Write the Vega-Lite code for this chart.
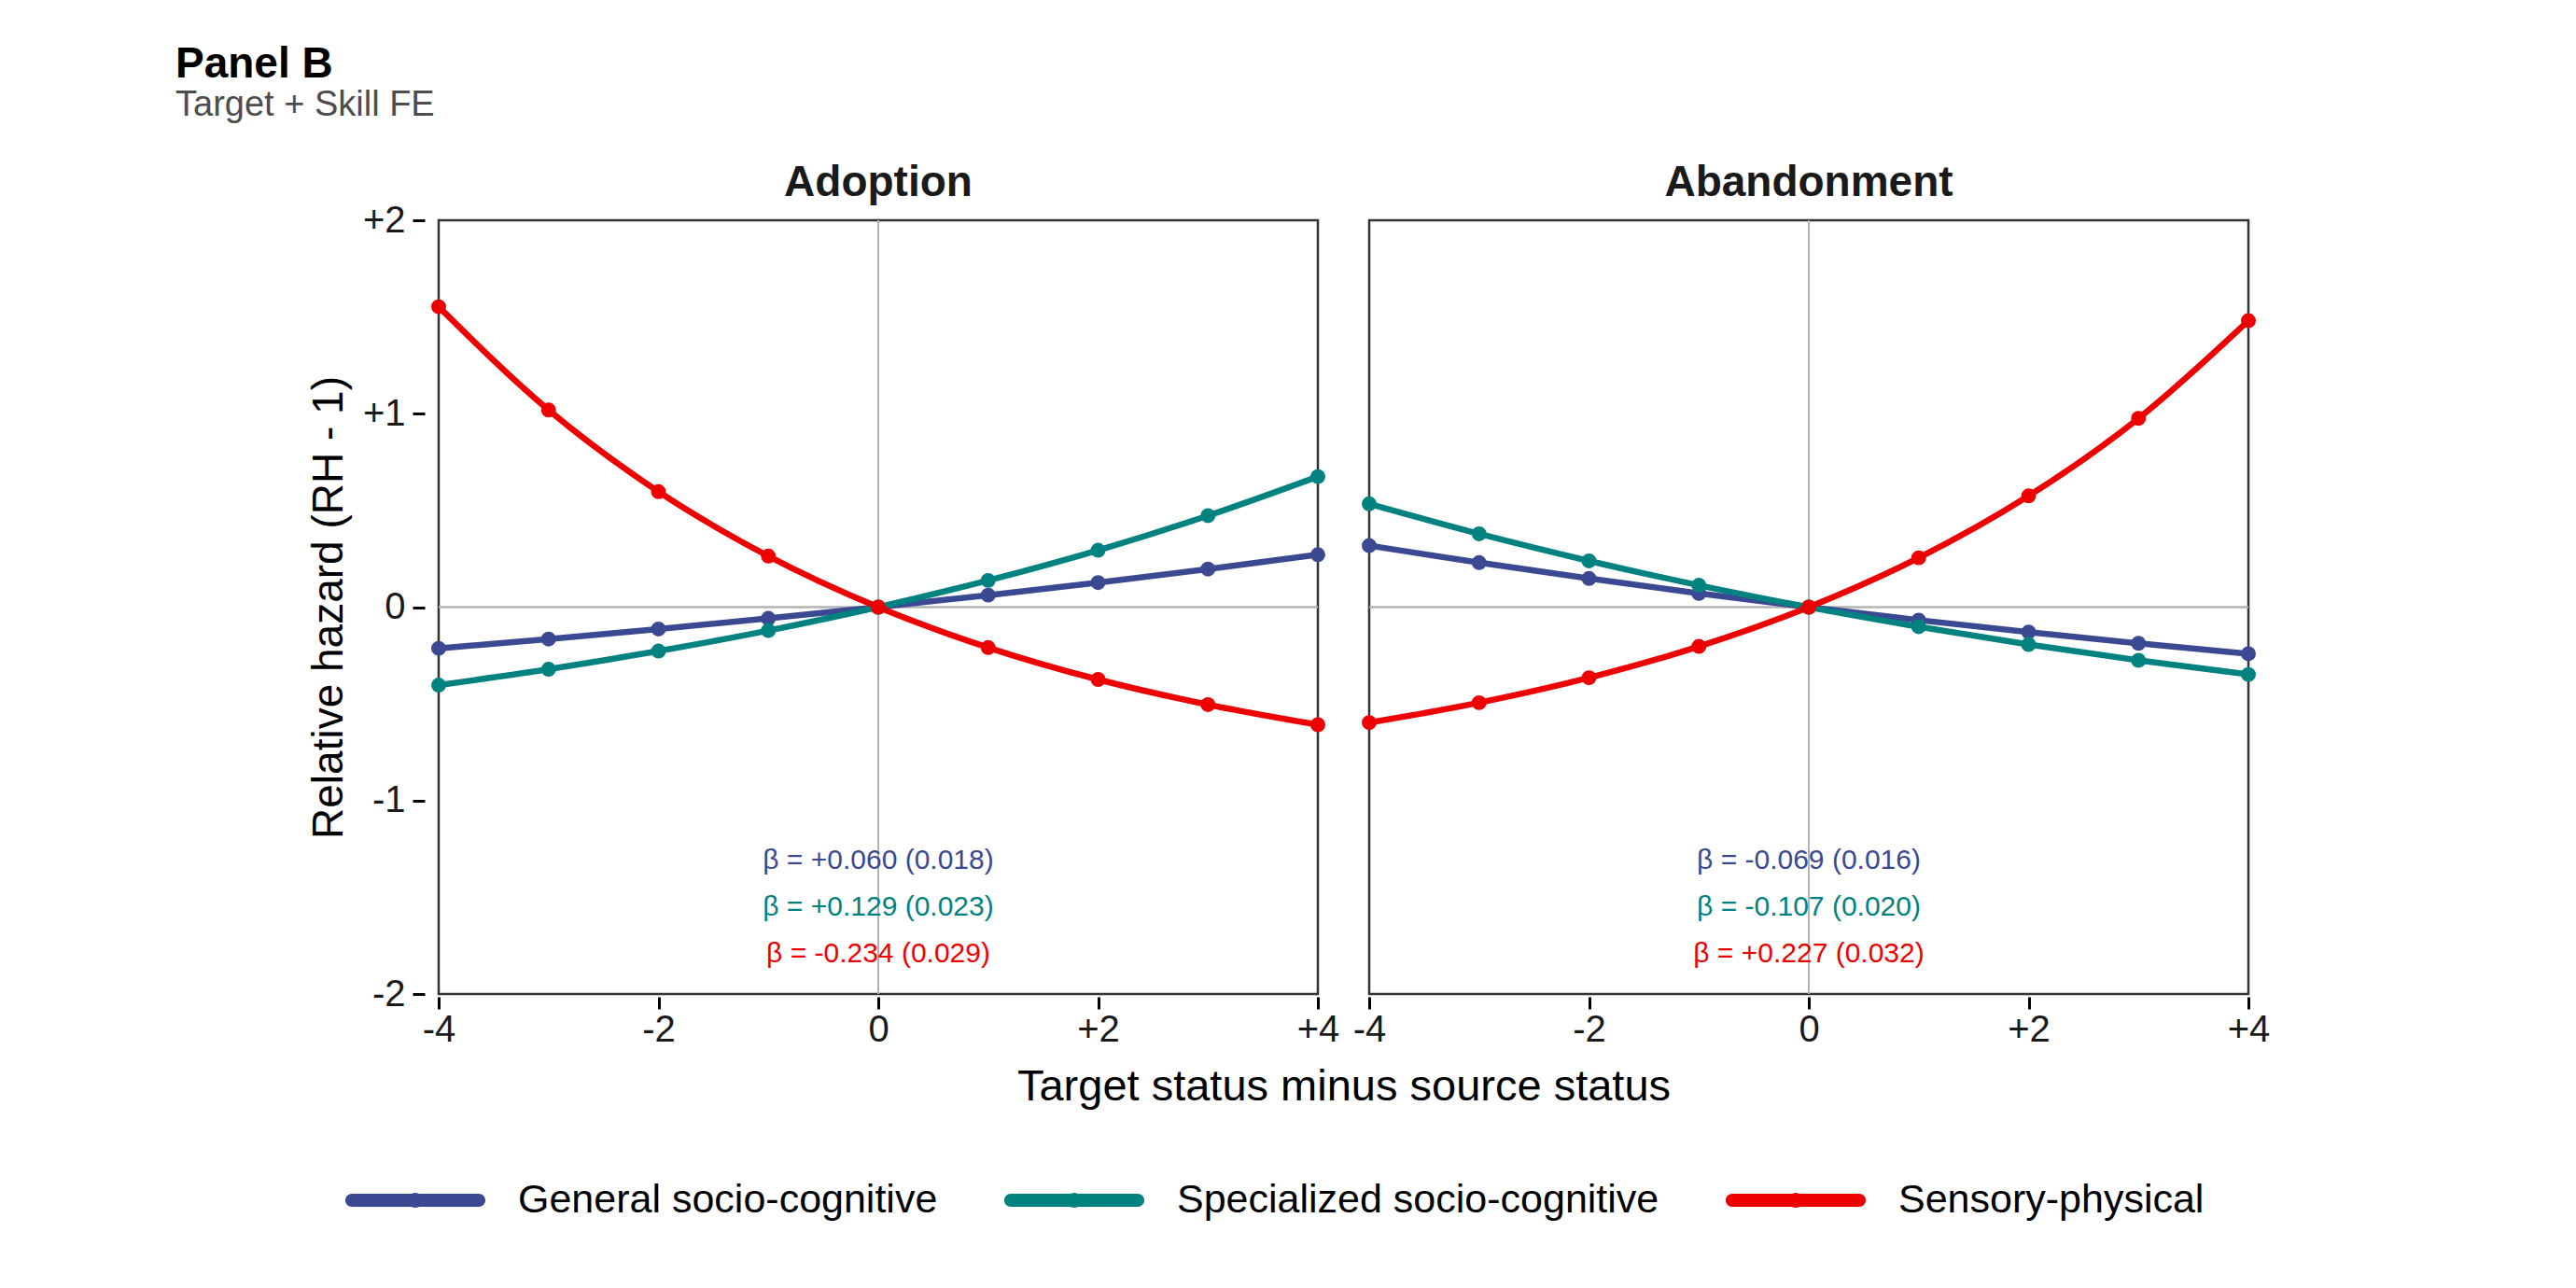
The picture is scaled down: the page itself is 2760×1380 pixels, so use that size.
{
  "$schema": "https://vega.github.io/schema/vega-lite/v6.json",
  "background": "white",
  "padding": {"left": 188, "top": 46, "right": 10, "bottom": 10},
  "title": {
    "text": "Panel B",
    "subtitle": "Target + Skill FE",
    "anchor": "start",
    "frame": "group",
    "dx": -282,
    "fontSize": 46,
    "fontWeight": "bold",
    "color": "black",
    "subtitleFontSize": 38,
    "subtitleColor": "#4d4d4d",
    "subtitlePadding": 1,
    "offset": 40
  },
  "data": {
    "values": [
      {"panel": "Adoption", "series": "gen", "x": -4, "rh": -0.213},
      {"panel": "Adoption", "series": "gen", "x": -3, "rh": -0.165},
      {"panel": "Adoption", "series": "gen", "x": -2, "rh": -0.113},
      {"panel": "Adoption", "series": "gen", "x": -1, "rh": -0.058},
      {"panel": "Adoption", "series": "gen", "x": 0, "rh": 0},
      {"panel": "Adoption", "series": "gen", "x": 1, "rh": 0.062},
      {"panel": "Adoption", "series": "gen", "x": 2, "rh": 0.127},
      {"panel": "Adoption", "series": "gen", "x": 3, "rh": 0.197},
      {"panel": "Adoption", "series": "gen", "x": 4, "rh": 0.271},
      {"panel": "Adoption", "series": "spec", "x": -4, "rh": -0.403},
      {"panel": "Adoption", "series": "spec", "x": -3, "rh": -0.321},
      {"panel": "Adoption", "series": "spec", "x": -2, "rh": -0.227},
      {"panel": "Adoption", "series": "spec", "x": -1, "rh": -0.121},
      {"panel": "Adoption", "series": "spec", "x": 0, "rh": 0},
      {"panel": "Adoption", "series": "spec", "x": 1, "rh": 0.138},
      {"panel": "Adoption", "series": "spec", "x": 2, "rh": 0.294},
      {"panel": "Adoption", "series": "spec", "x": 3, "rh": 0.473},
      {"panel": "Adoption", "series": "spec", "x": 4, "rh": 0.675},
      {"panel": "Adoption", "series": "sens", "x": -4, "rh": 1.553},
      {"panel": "Adoption", "series": "sens", "x": -3, "rh": 1.019},
      {"panel": "Adoption", "series": "sens", "x": -2, "rh": 0.597},
      {"panel": "Adoption", "series": "sens", "x": -1, "rh": 0.264},
      {"panel": "Adoption", "series": "sens", "x": 0, "rh": 0},
      {"panel": "Adoption", "series": "sens", "x": 1, "rh": -0.209},
      {"panel": "Adoption", "series": "sens", "x": 2, "rh": -0.374},
      {"panel": "Adoption", "series": "sens", "x": 3, "rh": -0.504},
      {"panel": "Adoption", "series": "sens", "x": 4, "rh": -0.608},
      {"panel": "Abandonment", "series": "gen", "x": -4, "rh": 0.318},
      {"panel": "Abandonment", "series": "gen", "x": -3, "rh": 0.23},
      {"panel": "Abandonment", "series": "gen", "x": -2, "rh": 0.148},
      {"panel": "Abandonment", "series": "gen", "x": -1, "rh": 0.071},
      {"panel": "Abandonment", "series": "gen", "x": 0, "rh": 0},
      {"panel": "Abandonment", "series": "gen", "x": 1, "rh": -0.067},
      {"panel": "Abandonment", "series": "gen", "x": 2, "rh": -0.129},
      {"panel": "Abandonment", "series": "gen", "x": 3, "rh": -0.187},
      {"panel": "Abandonment", "series": "gen", "x": 4, "rh": -0.241},
      {"panel": "Abandonment", "series": "spec", "x": -4, "rh": 0.534},
      {"panel": "Abandonment", "series": "spec", "x": -3, "rh": 0.379},
      {"panel": "Abandonment", "series": "spec", "x": -2, "rh": 0.239},
      {"panel": "Abandonment", "series": "spec", "x": -1, "rh": 0.113},
      {"panel": "Abandonment", "series": "spec", "x": 0, "rh": 0},
      {"panel": "Abandonment", "series": "spec", "x": 1, "rh": -0.101},
      {"panel": "Abandonment", "series": "spec", "x": 2, "rh": -0.193},
      {"panel": "Abandonment", "series": "spec", "x": 3, "rh": -0.275},
      {"panel": "Abandonment", "series": "spec", "x": 4, "rh": -0.348},
      {"panel": "Abandonment", "series": "sens", "x": -4, "rh": -0.597},
      {"panel": "Abandonment", "series": "sens", "x": -3, "rh": -0.494},
      {"panel": "Abandonment", "series": "sens", "x": -2, "rh": -0.365},
      {"panel": "Abandonment", "series": "sens", "x": -1, "rh": -0.203},
      {"panel": "Abandonment", "series": "sens", "x": 0, "rh": 0},
      {"panel": "Abandonment", "series": "sens", "x": 1, "rh": 0.255},
      {"panel": "Abandonment", "series": "sens", "x": 2, "rh": 0.575},
      {"panel": "Abandonment", "series": "sens", "x": 3, "rh": 0.976},
      {"panel": "Abandonment", "series": "sens", "x": 4, "rh": 1.481},
      {"panel": "Adoption", "series": "gen", "label": "β = +0.060 (0.018)"},
      {"panel": "Adoption", "series": "spec", "label": "β = +0.129 (0.023)"},
      {"panel": "Adoption", "series": "sens", "label": "β = -0.234 (0.029)"},
      {"panel": "Abandonment", "series": "gen", "label": "β = -0.069 (0.016)"},
      {"panel": "Abandonment", "series": "spec", "label": "β = -0.107 (0.020)"},
      {"panel": "Abandonment", "series": "sens", "label": "β = +0.227 (0.032)"}
    ]
  },
  "facet": {
    "column": {
      "field": "panel",
      "type": "nominal",
      "sort": ["Adoption", "Abandonment"],
      "title": "Target status minus source status",
      "header": {
        "labelOrient": "top",
        "titleOrient": "bottom",
        "labelFontSize": 46,
        "labelFontWeight": "bold",
        "labelColor": "#1a1a1a",
        "labelPadding": 13,
        "titleFontSize": 47,
        "titleFontWeight": "normal",
        "titleColor": "black",
        "titlePadding": 9
      }
    }
  },
  "spacing": 25,
  "spec": {
    "width": 942,
    "height": 829,
    "layer": [
      {
        "transform": [{"filter": "datum.x === 0 && datum.series === 'gen'"}],
        "mark": {"type": "rule", "color": "#b3b3b3", "strokeWidth": 2.7},
        "encoding": {"y": {"datum": 0}}
      },
      {
        "transform": [{"filter": "datum.x === 0 && datum.series === 'gen'"}],
        "mark": {"type": "rule", "color": "#b3b3b3", "strokeWidth": 2},
        "encoding": {"x": {"datum": 0}}
      },
      {
        "transform": [{"filter": "isValid(datum.x)"}],
        "mark": {"type": "line", "strokeWidth": 6.5, "interpolate": "monotone"},
        "encoding": {
          "x": {
            "field": "x",
            "type": "quantitative",
            "scale": {"domain": [-4, 4], "nice": false, "zero": false},
            "axis": {"title": null, "values": [-4, -2, 0, 2, 4], "labelPadding": 2, "labelExpr": "datum.value > 0 ? '+' + datum.value : '' + datum.value"}
          },
          "y": {
            "field": "rh",
            "type": "quantitative",
            "scale": {"domain": [-2, 2], "nice": false},
            "axis": {"title": "Relative hazard (RH - 1)", "titlePadding": 12, "values": [-2, -1, 0, 1, 2], "labelExpr": "datum.value > 0 ? '+' + datum.value : '' + datum.value"}
          },
          "stroke": {
            "field": "series",
            "type": "nominal",
            "scale": {"range": ["#3B4992", "#EE0000", "#008280"]},
            "legend": null
          }
        }
      },
      {
        "transform": [{"filter": "isValid(datum.x)"}],
        "mark": {"type": "point", "filled": true, "size": 254, "opacity": 1},
        "encoding": {
          "x": {"field": "x", "type": "quantitative"},
          "y": {"field": "rh", "type": "quantitative"},
          "fill": {
            "field": "series",
            "type": "nominal",
            "scale": {"domain": ["gen", "spec", "sens"], "range": ["#3B4992", "#008280", "#EE0000"]},
            "legend": {
              "title": null,
              "orient": "none",
              "legendX": -100,
              "legendY": 975,
              "direction": "horizontal",
              "symbolType": "M-0.907,-0.093L0.907,-0.093A0.093,0.093 0 0 1 0.907,0.093L-0.907,0.093A0.093,0.093 0 0 1 -0.907,-0.093ZM-0.107,0A0.107,0.107 0 1 1 0.107,0A0.107,0.107 0 1 1 -0.107,0Z",
              "symbolSize": 22500,
              "symbolStrokeWidth": 0,
              "symbolOpacity": 1,
              "labelFontSize": 43,
              "labelColor": "black",
              "labelLimit": 0,
              "labelOffset": 35,
              "columnPadding": 70,
              "labelExpr": "{'gen': 'General socio-cognitive', 'spec': 'Specialized socio-cognitive', 'sens': 'Sensory-physical'}[datum.label]"
            }
          }
        }
      },
      {
        "transform": [{"filter": "isValid(datum.label)"}],
        "mark": {"type": "text", "fontSize": 30, "align": "center", "baseline": "middle"},
        "encoding": {
          "x": {"datum": 0},
          "y": {"datum": -1.55},
          "yOffset": {
            "field": "series",
            "type": "nominal",
            "scale": {"type": "point", "domain": ["gen", "spec", "sens"], "range": [-50, 50], "padding": 0}
          },
          "text": {"field": "label"},
          "color": {
            "field": "series",
            "type": "nominal",
            "scale": {"range": ["#3B4992", "#EE0000", "#008280"]},
            "legend": null
          }
        }
      }
    ]
  },
  "config": {
    "font": "Liberation Sans",
    "view": {"stroke": "#333333", "strokeWidth": 2.5},
    "axis": {
      "domain": false,
      "grid": false,
      "ticks": true,
      "tickColor": "black",
      "tickWidth": 3,
      "tickSize": 13,
      "labelFontSize": 40,
      "labelColor": "#1a1a1a",
      "labelFlush": false,
      "labelOverlap": false,
      "labelPadding": 8,
      "titleFontSize": 46,
      "titleFontWeight": "normal",
      "titleColor": "black",
      "titlePadding": 14
    }
  }
}
